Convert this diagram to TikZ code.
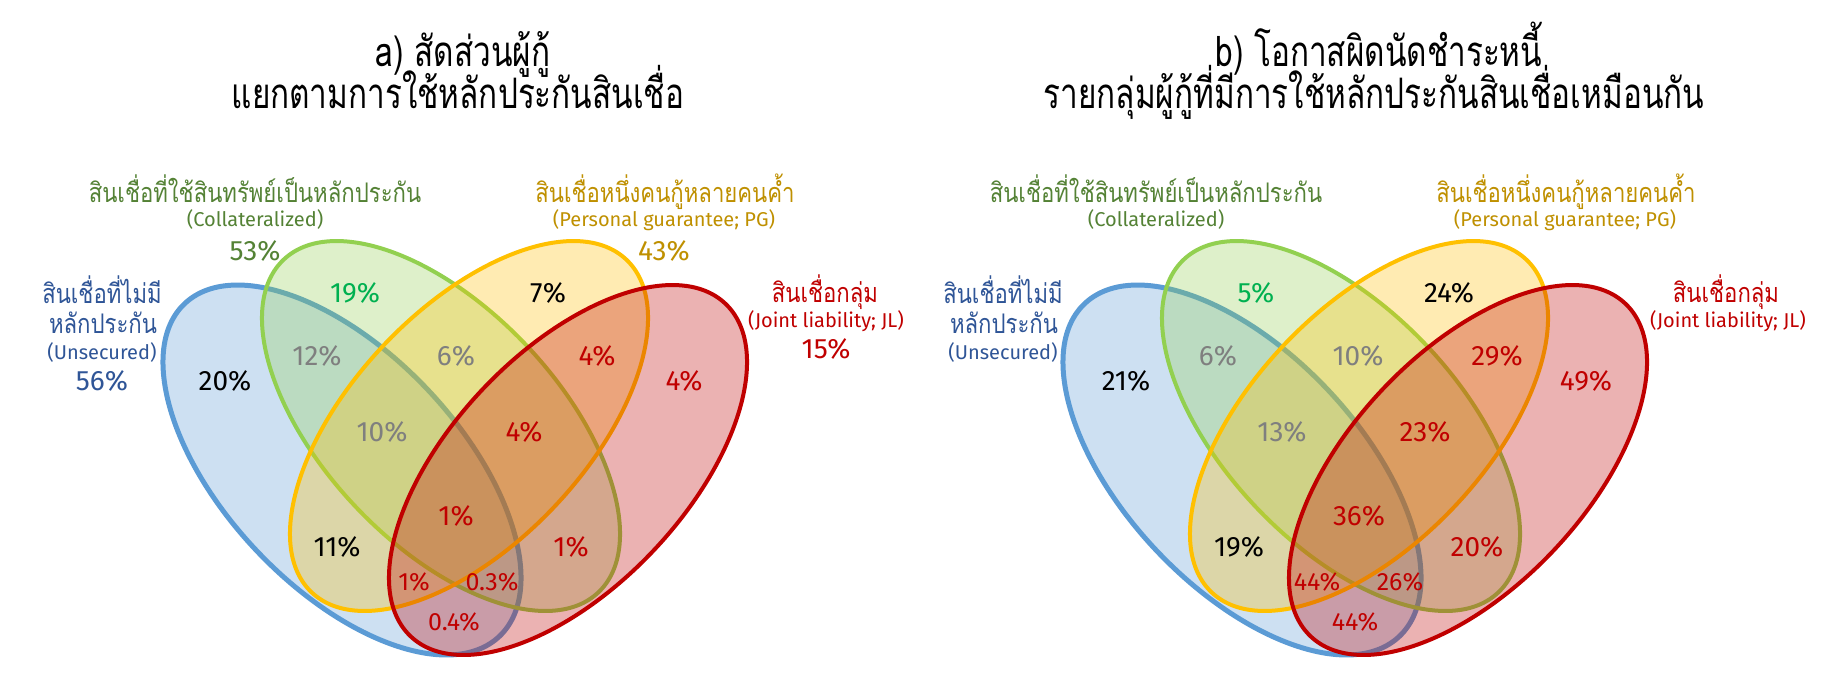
\documentclass[tikz,border=0pt]{standalone}
\usepackage{fontspec}
\setmainfont{Fira Sans}
\newfontfamily\thaifont[Script=Thai]{Loma}
\newcommand\thlab[1]{\scalebox{0.82}[1]{#1}}
\newcommand\thttl[1]{\scalebox{0.75}[1]{#1}}
\definecolor{eblue}{HTML}{5B9BD5}
\definecolor{egreen}{HTML}{92D050}
\definecolor{eyellow}{HTML}{FFC000}
\definecolor{ered}{HTML}{C00000}
\definecolor{tblue}{HTML}{2F5597}
\definecolor{tgreen}{HTML}{548235}
\definecolor{tgold}{HTML}{BF9000}
\definecolor{tgray}{HTML}{7F7F7F}
\definecolor{tpgreen}{HTML}{00B050}
\tikzset{
  ell/.style={line width=4pt, fill opacity=0.3},
  pct/.style={anchor=base, inner sep=0pt, font=\fontsize{28}{28}\selectfont},
  spct/.style={anchor=base, inner sep=0pt, font=\fontsize{25}{25}\selectfont},
  thl/.style={anchor=base, inner sep=0pt, font=\thaifont\fontsize{27}{27}\selectfont},
  enl/.style={anchor=base, inner sep=0pt, font=\fontsize{20}{20}\selectfont},
  ttl/.style={anchor=base, inner sep=0pt, font=\thaifont\fontsize{42}{42}\selectfont},
}
\newcommand\vennellipses{%
  \filldraw[ell, line width=5pt, draw=eblue, fill=eblue, rotate around={-46.6:(342,470)}] (342,470) ellipse [x radius=229pt, y radius=117.5pt];
  \filldraw[ell, draw=egreen, fill=egreen, rotate around={-46.6:(441,426)}] (441,426) ellipse [x radius=229pt, y radius=117.5pt];
  \filldraw[ell, draw=eyellow, fill=eyellow, rotate around={46.6:(469,426)}] (469,426) ellipse [x radius=229pt, y radius=117.5pt];
  \filldraw[ell, draw=ered, fill=ered, rotate around={46.6:(568,470)}] (568,470) ellipse [x radius=229pt, y radius=117.5pt];
}
\begin{document}
\begin{tikzpicture}[x=1pt,y=-1pt]
\useasboundingbox (0,0) rectangle (1848,689);
\fill[white] (0,0) rectangle (1848,689);

% ---------- a) ----------
\node[ttl] (ta1) at (463,66) {\thttl{a) สัดส่วนผู้กู้}};
\node[ttl] (ta2) at (458,108) {\thttl{แยกตามการใช้หลักประกันสินเชื่อ}};
\vennellipses
\node[thl, text=tgreen] (aCt) at (255,202) {\thlab{สินเชื่อที่ใช้สินทรัพย์เป็นหลักประกัน}};
\node[enl, text=tgreen] (aCe) at (255,226) {(Collateralized)};
\node[pct, text=tgreen] (aCp) at (255,260) {53\%};
\node[thl, text=tgold] (aPt) at (665,202) {\thlab{สินเชื่อหนึ่งคนกู้หลายคนค้ำ}};
\node[enl, text=tgold] (aPe) at (664,226) {(Personal guarantee; PG)};
\node[pct, text=tgold] (aPp) at (664,260) {43\%};
\node[thl, text=tblue] (aUt1) at (102,303) {\thlab{สินเชื่อที่ไม่มี}};
\node[thl, text=tblue] (aUt2) at (103,333) {\thlab{หลักประกัน}};
\node[enl, text=tblue] (aUe) at (102,359) {(Unsecured)};
\node[pct, text=tblue] (aUp) at (102,390) {56\%};
\node[thl, text=ered] (aJt) at (825,302) {\thlab{สินเชื่อกลุ่ม}};
\node[enl, text=ered] (aJe) at (826,327) {(Joint liability; JL)};
\node[pct, text=ered] (aJp) at (826,358) {15\%};

\node[pct, text=tpgreen] (a1) at (355,302) {19\%};
\node[pct, text=black] (a2) at (548,302) {7\%};
\node[pct, text=tgray] (a3) at (317,365) {12\%};
\node[pct, text=tgray] (a4) at (456,365) {6\%};
\node[pct, text=ered] (a5) at (597,365) {4\%};
\node[pct, text=black] (a6) at (225,390) {20\%};
\node[pct, text=ered] (a7) at (684,390) {4\%};
\node[pct, text=tgray] (a8) at (382,441) {10\%};
\node[pct, text=ered] (a9) at (524,441) {4\%};
\node[pct, text=ered] (a10) at (456,525) {1\%};
\node[pct, text=black] (a11) at (337,556) {11\%};
\node[pct, text=ered] (a12) at (571,556) {1\%};
\node[spct, text=ered] (a13) at (414,590) {1\%};
\node[spct, text=ered] (a14) at (492,590) {0.3\%};
\node[spct, text=ered] (a15) at (454,630) {0.4\%};

% ---------- b) ----------
\node[ttl] (tb1) at (1379,66) {\thttl{b) โอกาสผิดนัดชำระหนี้}};
\node[ttl] (tb2) at (1374,108) {\thttl{รายกลุ่มผู้กู้ที่มีการใช้หลักประกันสินเชื่อเหมือนกัน}};
\begin{scope}[xshift=900pt]
\vennellipses
\node[thl, text=tgreen] (bCt) at (256,202) {\thlab{สินเชื่อที่ใช้สินทรัพย์เป็นหลักประกัน}};
\node[enl, text=tgreen] (bCe) at (256,226) {(Collateralized)};
\node[thl, text=tgold] (bPt) at (666,202) {\thlab{สินเชื่อหนึ่งคนกู้หลายคนค้ำ}};
\node[enl, text=tgold] (bPe) at (665,226) {(Personal guarantee; PG)};
\node[thl, text=tblue] (bUt1) at (103,303) {\thlab{สินเชื่อที่ไม่มี}};
\node[thl, text=tblue] (bUt2) at (104,333) {\thlab{หลักประกัน}};
\node[enl, text=tblue] (bUe) at (103,359) {(Unsecured)};
\node[thl, text=ered] (bJt) at (826,302) {\thlab{สินเชื่อกลุ่ม}};
\node[enl, text=ered] (bJe) at (828,327) {(Joint liability; JL)};

\node[pct, text=tpgreen] (b1) at (356,302) {5\%};
\node[pct, text=black] (b2) at (549,302) {24\%};
\node[pct, text=tgray] (b3) at (318,365) {6\%};
\node[pct, text=tgray] (b4) at (458,365) {10\%};
\node[pct, text=ered] (b5) at (597,365) {29\%};
\node[pct, text=black] (b6) at (226,390) {21\%};
\node[pct, text=ered] (b7) at (686,390) {49\%};
\node[pct, text=tgray] (b8) at (382,441) {13\%};
\node[pct, text=ered] (b9) at (525,441) {23\%};
\node[pct, text=ered] (b10) at (459,525) {36\%};
\node[pct, text=black] (b11) at (339,556) {19\%};
\node[pct, text=ered] (b12) at (577,556) {20\%};
\node[spct, text=ered] (b13) at (417,590) {44\%};
\node[spct, text=ered] (b14) at (500,590) {26\%};
\node[spct, text=ered] (b15) at (455,630) {44\%};
\end{scope}
\end{tikzpicture}
\end{document}
